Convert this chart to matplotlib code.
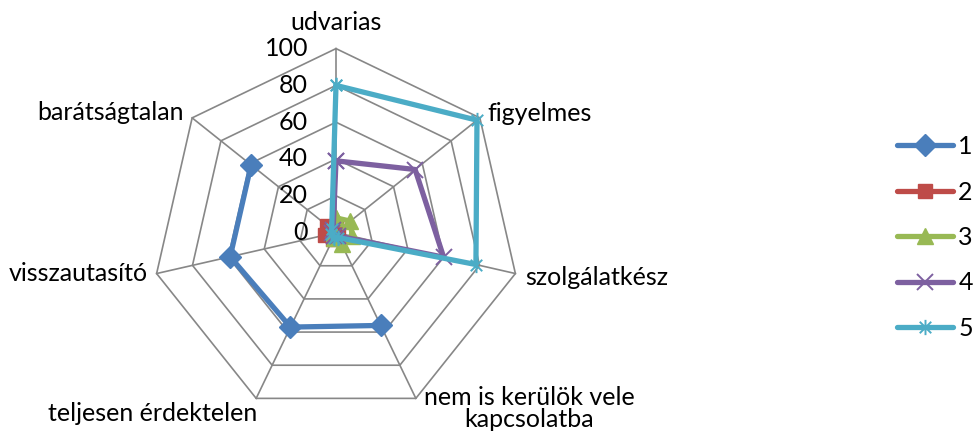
import numpy as np
import matplotlib
matplotlib.use('Agg')
import matplotlib.pyplot as plt
from matplotlib.path import Path

categories = ['udvarias', 'figyelmes', 'szolgálatkész',
              'nem is kerülök vele\nkapcsolatba', 'teljesen érdektelen',
              'visszautasító', 'barátságtalan']
series_names = ['1', '2', '3', '4', '5']
nan = np.nan
s1 = [nan, nan, nan, 56, 57, 59, 59]
s2 = [2, 0, 0, 2, 4, 6, 6]
s3 = [8, 10, 9, 7, 3, 1, 2]
s4 = [39, 55, 60, 2, 2, 2, 2]
s5 = [80, 98, 78, 3, 3, 3, 3]
levels = [0, 20, 40, 60, 80, 100]

plt.rcParams['font.family'] = ['Lato', 'DejaVu Sans']
FS = 18

W, H = 975, 434
fig = plt.figure(figsize=(W / 100, H / 100), dpi=100)
cx, cy, R = 336, H - 232.6, 184
ax = fig.add_axes([(cx - R) / W, (cy - R) / H, 2 * R / W, 2 * R / H], projection='polar')
ax.set_theta_zero_location('N')
ax.set_theta_direction(-1)
ax.set_ylim(0, 100)
ax.grid(False)
ax.spines['polar'].set_visible(False)
ax.set_xticks([])
ax.set_yticks([])
ax.patch.set_visible(False)

N = len(categories)
theta = np.arange(N) * 2 * np.pi / N
closed = np.append(theta, theta[0])
gc = '#878787'
for lv in levels[1:]:
    ax.plot(closed, [lv] * (N + 1), color=gc, lw=1.2, zorder=1, clip_on=False)
for t in theta:
    ax.plot([t, t], [0, 100], color=gc, lw=1.2, zorder=1, clip_on=False)

# radial tick labels
for lv in levels:
    ax.annotate(str(lv), xy=(0, lv), xytext=(-20, 0), textcoords='offset points',
                ha='right', va='center', fontsize=FS, annotation_clip=False)

# category labels: (dx, dy in points, ha, va)
lab_pos = [
    (0, 19, 'center', 'center'),
    (5.5, 3, 'left', 'center'),
    (7, -3, 'left', 'center'),
    (6, -7, 'left', 'center'),
    (1, -11, 'right', 'center'),
    (-6.5, 0, 'right', 'center'),
    (-6, 4, 'right', 'center'),
]
for t, lab, (dx, dy, ha, va) in zip(theta, categories, lab_pos):
    ax.annotate(lab, xy=(t, 100), xytext=(dx, dy), textcoords='offset points',
                ha=ha, va=va, fontsize=FS, multialignment='center',
                annotation_clip=False, linespacing=0.95)

ast = Path([(0, -1), (0, 1), (-0.75, -0.75), (0.75, 0.75), (-0.75, 0.75), (0.75, -0.75)],
           [Path.MOVETO, Path.LINETO] * 3)

styles = [
    dict(color='#4A7EBB', marker='D', markersize=11.5),
    dict(color='#BE4B48', marker='s', markersize=10.5),
    dict(color='#98B954', marker='^', markersize=11.5),
    dict(color='#7D60A0', marker='x', markersize=11, markeredgewidth=1.4),
    dict(color='#4BACC6', marker=ast, markersize=11, markeredgewidth=1.4),
]
data = [s1, s2, s3, s4, s5]
handles = []
for name, vals, st in zip(series_names, data, styles):
    v = list(vals) + [vals[0]]
    ln, = ax.plot(closed, v, lw=3.8, label=name, zorder=3, clip_on=False,
                  solid_joinstyle='round', solid_capstyle='round', **st)
    handles.append(ln)

fig.legend(handles=handles, loc='center left',
           bbox_to_anchor=(897 / W, (H - 237.5) / H), frameon=False,
           fontsize=FS, borderpad=0, borderaxespad=0, handlelength=2.25,
           handletextpad=0.2, labelspacing=0.9)

fig.savefig('out.png', dpi=100)
